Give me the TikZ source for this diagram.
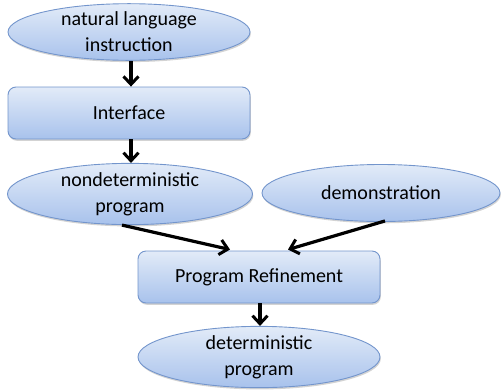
\documentclass[tikz,border=0pt]{standalone}
\usepackage{fontspec}
\setmainfont{Carlito}
\usetikzlibrary{shapes.geometric,arrows.meta,shadows,calc}
\definecolor{topblue}{HTML}{E2EBF8}
\definecolor{botblue}{HTML}{A8C2EC}
\definecolor{edgeblue}{HTML}{7395CC}
\tikzset{
  x=1pt,y=-1pt,
  base/.style={draw=edgeblue, line width=0.9pt, top color=topblue, bottom color=botblue,
    font=\fontsize{20}{26}\selectfont, align=center, inner sep=0pt,
    drop shadow={shadow xshift=0.8pt, shadow yshift=-1.8pt, opacity=0.35}},
  oval/.style={base, ellipse},
  rbox/.style={base, rectangle, rounded corners=8pt},
  arr/.style={line width=3.2pt, -{Straight Barb[length=8pt,width=15pt,line width=3pt]}},
}
\begin{document}
\begin{tikzpicture}
\useasboundingbox (0,0) rectangle (503,389);
\node[oval, minimum width=242pt, minimum height=55pt] (nl) at (129,32) {natural language\\instruction};
\node[rbox, minimum width=242pt, minimum height=52pt] (iface) at (129,113) {Interface};
\node[oval, minimum width=245pt, minimum height=56pt] (nondet) at (130,194) {nondeterministic\\program};
\node[oval, minimum width=238pt, minimum height=57pt] (demo) at (381,193) {demonstration};
\node[rbox, minimum width=242pt, minimum height=52pt] (ref) at (259,277) {Program Refinement};
\node[oval, minimum width=242pt, minimum height=60pt] (det) at (259,357) {deterministic\\program};
\coordinate (t1) at ($(ref.north)+(-29,-1)$);
\coordinate (t2) at ($(ref.north)+(29,-1)$);
\draw[arr] ($(nl.south)+(2,0)$) -- ($(iface.north)+(2,0)$);
\draw[arr] ($(iface.south)+(2,0)$) -- ($(nondet.north)+(1,0)$);
\draw[arr] ($(nondet.south)+(-8,0)$) -- (t1);
\draw[arr] ($(demo.south)+(4,-1)$) -- (t2);
\draw[arr] ($(ref.south)+(1,0)$) -- ($(det.north)+(1,0)$);
\end{tikzpicture}
\end{document}
